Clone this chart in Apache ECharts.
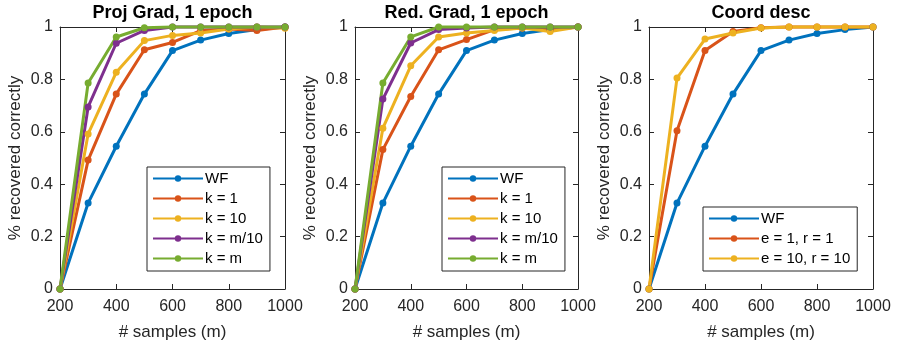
<!DOCTYPE html>
<html>
<head>
<meta charset="utf-8">
<script src="https://cdn.jsdelivr.net/npm/echarts@6/dist/echarts.min.js"></script>
<style>
  html, body { margin: 0; padding: 0; background: #fff; }
  #chart { width: 902px; height: 352px; }
</style>
</head>
<body>
<div id="chart"></div>
<script>
// samples (m)
const samples = [200, 300, 400, 500, 600, 700, 800, 900, 1000];

// wirtinger flow baseline (same in all panels)
const wf = [0, 0.328, 0.545, 0.744, 0.91, 0.95, 0.975, 0.99, 1];

// Proj Grad, 1 epoch
const pgK1 = [0, 0.492, 0.744, 0.913, 0.941, 0.986, 0.992, 0.987, 1];
const pgK10 = [0, 0.592, 0.827, 0.948, 0.968, 0.977, 0.992, 1, 0.995];
const pgKm10 = [0, 0.695, 0.938, 0.987, 1, 1, 1, 1, 1];
const pgKm = [0, 0.786, 0.962, 0.997, 1, 1, 1, 1, 1];

// Red. Grad, 1 epoch
const rgK1 = [0, 0.532, 0.735, 0.913, 0.952, 0.99, 0.996, 0.99, 1];
const rgK10 = [0, 0.614, 0.852, 0.962, 0.977, 0.987, 0.996, 0.983, 1];
const rgKm10 = [0, 0.725, 0.939, 0.99, 0.996, 1, 1, 1, 1];
const rgKm = [0, 0.786, 0.962, 1, 1, 1, 1, 1, 1];

// Coord desc
const cdE1 = [0, 0.604, 0.91, 0.983, 0.997, 1, 1, 1, 1];
const cdE10 = [0, 0.805, 0.954, 0.977, 0.996, 1, 1, 1, 1];

const titles = ["Proj Grad, 1 epoch", "Red. Grad, 1 epoch", "Coord desc"];
const xName = "# samples (m)";
const yName = "% recovered correctly";

const colors = {
  "WF": "#0072BD",
  "k = 1": "#D95319",
  "k = 10": "#EDB120",
  "k = m/10": "#7E2F8E",
  "k = m": "#77AC30",
  "e = 1, r = 1": "#D95319",
  "e = 10, r = 10": "#EDB120",
};

const panels = [
  { left: 60, width: 225, legend: [147, 167],
    lines: [["WF", wf], ["k = 1", pgK1], ["k = 10", pgK10], ["k = m/10", pgKm10], ["k = m", pgKm]] },
  { left: 355, width: 223, legend: [442, 167],
    lines: [["WF", wf], ["k = 1", rgK1], ["k = 10", rgK10], ["k = m/10", rgKm10], ["k = m", rgKm]] },
  { left: 649, width: 224, legend: [703, 207],
    lines: [["WF", wf], ["e = 1, r = 1", cdE1], ["e = 10, r = 10", cdE10]] },
];

const FONT = "Liberation Sans, Arial, Helvetica, sans-serif";
const INK = "#262626";
const TOP = 27, HEIGHT = 262;

const option = {
  animation: false,
  backgroundColor: "#fff",
  title: [], grid: [], xAxis: [], yAxis: [], legend: [], series: [],
};

panels.forEach(function (p, i) {
  option.title.push({
    text: titles[i],
    left: p.left + p.width / 2,
    textAlign: "center",
    top: 4,
    padding: 0,
    textStyle: { fontFamily: FONT, fontSize: 18, fontWeight: "bold", color: "#000" },
  });
  option.grid.push({ left: p.left, top: TOP, width: p.width, height: HEIGHT });

  const axisLine = { show: true, onZero: false, lineStyle: { color: INK, width: 1 } };
  const tick = { show: true, inside: true, length: 5, lineStyle: { color: INK } };

  // bottom / left axes with labels
  option.xAxis.push({
    type: "value", gridIndex: i, min: 200, max: 1000, interval: 200,
    name: xName, nameLocation: "middle", nameGap: 35,
    nameTextStyle: { fontFamily: FONT, fontSize: 17, color: INK },
    axisLine: axisLine, axisTick: tick, splitLine: { show: false },
    axisLabel: { fontFamily: FONT, fontSize: 16, color: INK, margin: 10,
      formatter: function (v) { return String(v); } },
  });
  option.yAxis.push({
    type: "value", gridIndex: i, min: 0, max: 1, interval: 0.2,
    name: yName, nameLocation: "middle", nameGap: 36,
    nameTextStyle: { fontFamily: FONT, fontSize: 17, color: INK },
    axisLine: axisLine, axisTick: tick, splitLine: { show: false },
    axisLabel: { fontFamily: FONT, fontSize: 16, color: INK, margin: 7,
      formatter: function (v) { return String(v); } },
  });
  // box: top / right axes, ticks only
  option.xAxis.push({
    type: "value", gridIndex: i, position: "top", min: 200, max: 1000, interval: 200,
    axisLine: axisLine, axisTick: tick, axisLabel: { show: false }, splitLine: { show: false },
  });
  option.yAxis.push({
    type: "value", gridIndex: i, position: "right", min: 0, max: 1, interval: 0.2,
    axisLine: axisLine, axisTick: tick, axisLabel: { show: false }, splitLine: { show: false },
  });

  option.legend.push({
    orient: "vertical",
    left: p.legend[0], top: p.legend[1],
    data: p.lines.map(function (l) { return l[0]; }),
    selectedMode: false,
    backgroundColor: "#fff",
    borderColor: INK, borderWidth: 1, borderRadius: 0,
    padding: [4, 7, 5, 5],
    itemWidth: 50, itemHeight: 8, itemGap: 5,
    textStyle: { fontFamily: FONT, fontSize: 15, color: "#000", padding: [0, 0, 0, -3] },
  });

  p.lines.forEach(function (l) {
    option.series.push({
      name: l[0], type: "line",
      xAxisIndex: 2 * i, yAxisIndex: 2 * i,
      data: samples.map(function (x, j) { return [x, l[1][j]]; }),
      symbol: "circle", symbolSize: 7, showSymbol: true,
      clip: false,
      color: colors[l[0]],
      lineStyle: { width: 3, color: colors[l[0]] },
      itemStyle: { color: colors[l[0]] },
    });
  });
});

const chart = echarts.init(document.getElementById("chart"));
chart.setOption(option);
</script>
</body>
</html>
